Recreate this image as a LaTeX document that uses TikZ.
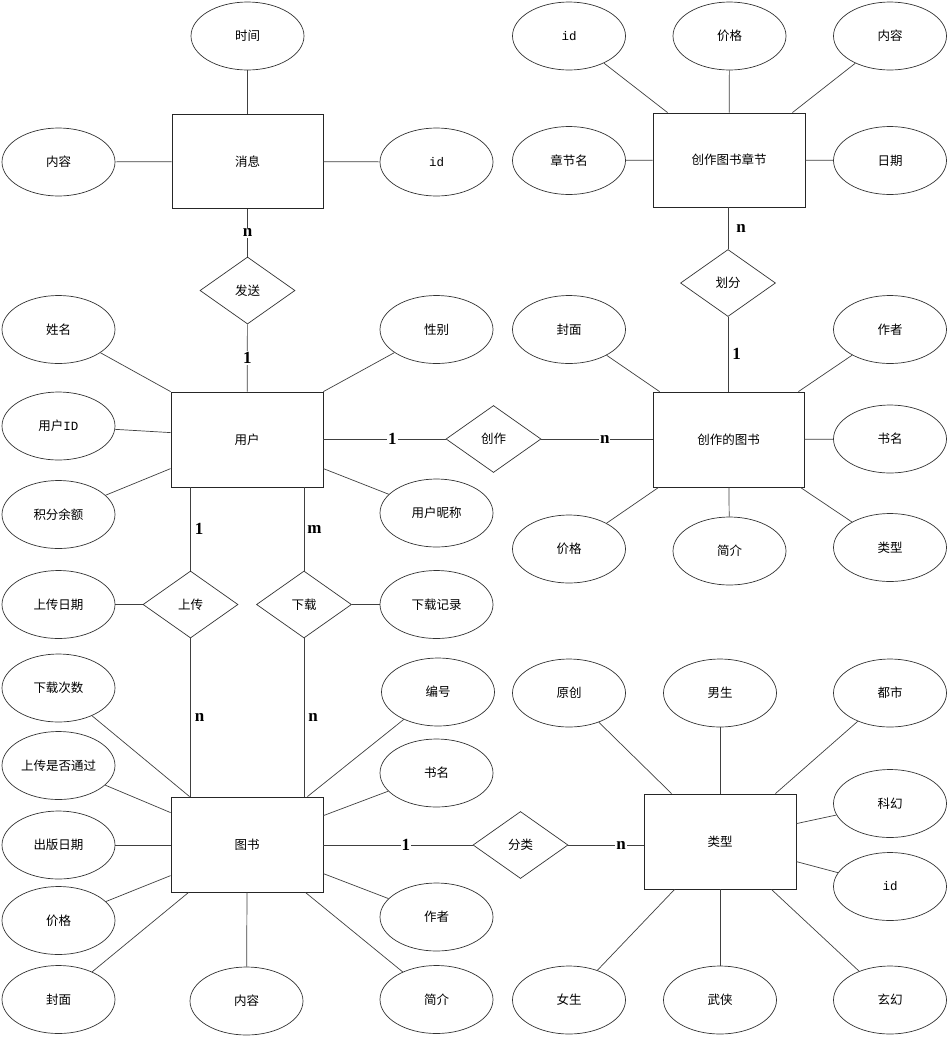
\documentclass[tikz,border=0pt]{standalone}
\usepackage{fontspec}
\usetikzlibrary{shapes.geometric,calc}
\newfontfamily\cjk{Noto Sans CJK SC}
\newfontfamily\monof{Liberation Mono}
\newfontfamily\cardf{Liberation Serif}
\begin{document}
\begin{tikzpicture}[x=1pt,y=-1pt,
  every node/.style={font=\cjk\fontsize{12.5}{14}\selectfont, inner sep=0pt},
  attr/.style={ellipse, draw=black!80, line width=0.7pt, minimum width=113, minimum height=68},
  ent/.style={rectangle, draw=black!85, line width=0.8pt, minimum width=152, minimum height=95},
  rel/.style={diamond, draw=black!80, line width=0.7pt, minimum width=95, minimum height=67, aspect=1.42},
  conn/.style={draw=black!75, line width=0.7pt},
  card/.style={font=\cardf\bfseries\fontsize{17}{18}\selectfont, fill=white, inner sep=1pt},
  cardr/.style={font=\cardf\bfseries\fontsize{17}{18}\selectfont, anchor=west, inner sep=0pt}
]
\useasboundingbox (0,0) rectangle (948,1037);
\fill[white] (0,0) rectangle (948,1037);

% entities
\node[ent, minimum width=151, minimum height=94] (msg) at (247.5,161.5) {消息};
\node[ent] (user) at (247,439.5) {用户};
\node[ent] (book) at (247,844.5) {图书};
\node[ent, minimum height=94] (chap) at (729,160) {创作图书章节};
\node[ent, minimum width=151] (cbook) at (728.5,439.5) {创作的图书};
\node[ent] (type) at (720,841.5) {类型};

% relations
\node[rel] (rsend) at (247.5,290.5) {发送};
\node[rel] (rup) at (190.5,604.5) {上传};
\node[rel] (rdown) at (304,604.5) {下载};
\node[rel] (rcreate) at (493.5,439) {创作};
\node[rel] (rdiv) at (728,283) {划分};
\node[rel] (rclass) at (520.5,845) {分类};

% attributes
\node[attr] (etime) at (247.5,36) {时间};
\node[attr] (emcont) at (58.5,162) {内容};
\node[attr] (emid) at (436.5,162) {\monof id};
\node[attr] (ename) at (58.5,329.5) {姓名};
\node[attr] (esex) at (436.5,329.5) {性别};
\node[attr] (euid) at (58.5,426) {用户{\monof ID}};
\node[attr] (epts) at (58.5,514.5) {积分余额};
\node[attr] (enick) at (436.5,513) {用户昵称};
\node[attr] (eupdt) at (58.5,604.5) {上传日期};
\node[attr] (edlrec) at (436.5,604.5) {下载记录};
\node[attr] (edlcnt) at (58.5,688) {下载次数};
\node[attr] (epass) at (58.5,765.5) {上传是否通过};
\node[attr] (epub) at (58.5,845) {出版日期};
\node[attr] (ebprice) at (58.5,920.5) {价格};
\node[attr] (ebcover) at (58.5,999.5) {封面};
\node[attr] (ebcont) at (246.5,1001) {内容};
\node[attr] (ebintro) at (436.5,999.5) {简介};
\node[attr] (ebauth) at (436.5,917) {作者};
\node[attr] (ebname) at (436.5,773) {书名};
\node[attr] (ebno) at (438,692) {编号};
\node[attr] (ecid) at (569,36) {\monof id};
\node[attr] (ecprice) at (729.5,36) {价格};
\node[attr] (eccont) at (890,36) {内容};
\node[attr] (ecname) at (569,160.5) {章节名};
\node[attr] (ecdate) at (890,160.5) {日期};
\node[attr] (ekcover) at (569,329.5) {封面};
\node[attr] (ekauth) at (890,329.5) {作者};
\node[attr] (ekname) at (890,439) {书名};
\node[attr] (ekprice) at (569,549) {价格};
\node[attr] (ekintro) at (729.5,551) {简介};
\node[attr] (ektype) at (890,547.5) {类型};
\node[attr] (eorig) at (569,693) {原创};
\node[attr] (emale) at (720,693) {男生};
\node[attr] (ecity) at (890,693) {都市};
\node[attr] (escifi) at (890,803.5) {科幻};
\node[attr] (etid) at (890,886.5) {\monof id};
\node[attr] (efemale) at (569,1000) {女生};
\node[attr] (ewuxia) at (720,1000) {武侠};
\node[attr] (exuan) at (890,1000) {玄幻};

% message
\path[conn] (etime) -- (msg);
\path[conn] (emcont) -- (msg);
\path[conn] (emid) -- (msg);
\path[conn] (msg) -- node[card]{n} (rsend);
\path[conn] (rsend) -- node[card]{1} (user);

% user
\path[conn] (ename) -- (user.north west);
\path[conn] (esex) -- (user.north east);
\path[conn] (euid) -- ($(user.north west)+(0,41)$);
\path[conn] (epts) -- ($(user.north west)+(0,77)$);
\path[conn] (enick) -- ($(user.north east)+(0,77)$);
\path[conn] (user.east |- rcreate) -- node[card, pos=0.565]{1} (rcreate);
\path[conn] (rcreate) -- node[card, pos=0.57]{n} (rcreate -| cbook.west);
\path[conn] (rup.north |- user.south) -- node[cardr, xshift=4]{1} (rup.north);
\path[conn] (rdown.north |- user.south) -- node[cardr, xshift=3]{m} (rdown.north);
\path[conn] (eupdt) -- (rup);
\path[conn] (rdown) -- (edlrec);
\path[conn] (rup.south) -- node[cardr, xshift=4]{n} (rup.south |- book.north);
\path[conn] (rdown.south) -- node[cardr, xshift=4]{n} (rdown.south |- book.north);

% book
\path[conn] (edlcnt) -- ($(book.north west)+(19,0)$);
\path[conn] (epass) -- ($(book.north west)+(0,16)$);
\path[conn] (epub) -- (epub -| book.west);
\path[conn] (ebprice) -- ($(book.north west)+(0,79)$);
\path[conn] (ebcover) -- ($(book.south west)+(18,0)$);
\path[conn] (book.south) -- (ebcont);
\path[conn] (ebintro) -- ($(book.south east)+(-18,0)$);
\path[conn] (ebauth) -- ($(book.north east)+(0,77)$);
\path[conn] (ebname) -- ($(book.north east)+(0,19)$);
\path[conn] (ebno) -- ($(book.north east)+(-16,0)$);
\path[conn] (book.east |- rclass) -- node[card, pos=0.553]{1} (rclass);
\path[conn] (rclass) -- node[card, pos=0.70]{n} (rclass -| type.west);

% chapter
\path[conn] (ecid) -- ($(chap.north west)+(15,0)$);
\path[conn] (ecprice) -- (chap);
\path[conn] (eccont) -- ($(chap.north east)+(-13,0)$);
\path[conn] (ecname) -- (chap);
\path[conn] (ecdate) -- (chap);
\path[conn] (chap.south -| rdiv.north) -- node[cardr, xshift=8]{n} (rdiv.north);
\path[conn] (rdiv.south) -- node[cardr, xshift=4]{1} (rdiv.south |- cbook.north);

% created book
\path[conn] (ekcover) -- ($(cbook.north west)+(7,0)$);
\path[conn] (ekauth) -- ($(cbook.north east)+(-6,0)$);
\path[conn] (ekname) -- (cbook);
\path[conn] (ekprice) -- ($(cbook.south west)+(6,0)$);
\path[conn] (ekintro) -- (cbook);
\path[conn] (ektype) -- ($(cbook.south east)+(-4,0)$);

% type
\path[conn] (eorig) -- ($(type.north west)+(28,0)$);
\path[conn] (emale) -- (type);
\path[conn] (ecity) -- ($(type.north east)+(-21,0)$);
\path[conn] (escifi) -- ($(type.north east)+(0,30)$);
\path[conn] (etid) -- ($(type.north east)+(0,68)$);
\path[conn] (efemale) -- ($(type.south west)+(31,0)$);
\path[conn] (ewuxia) -- (type);
\path[conn] (exuan) -- ($(type.south east)+(-25,0)$);
\end{tikzpicture}
\end{document}
